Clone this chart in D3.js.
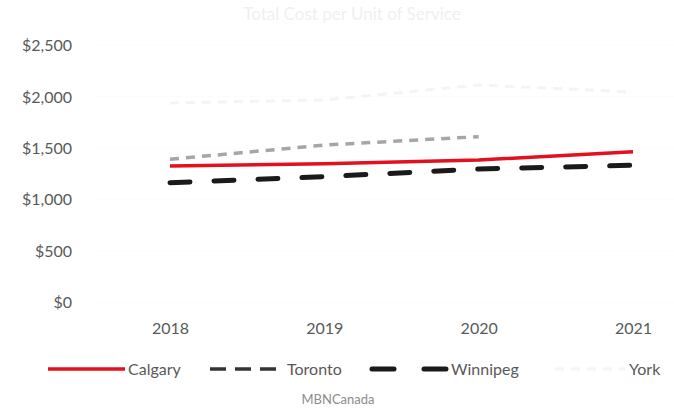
<!DOCTYPE html>
<html>
<head>
<meta charset="utf-8">
<script src="https://cdn.jsdelivr.net/npm/d3@7"></script>
<style>
  html, body { margin: 0; padding: 0; background: #ffffff; }
  svg { display: block; }
</style>
</head>
<body>
<div id="chart"></div>
<script>
// ---- data ----
const years = ["2018", "2019", "2020", "2021"];
const calgary = [1323, 1345, 1381, 1462];
const toronto = [1388, 1527, 1608, null];
const winnipeg = [1161, 1219, 1294, 1330];
const york = [1936, 1965, 2111, 2043];
const yTicks = [0, 500, 1000, 1500, 2000, 2500];
const seriesNames = ["Calgary", "Toronto", "Winnipeg", "York"];
const titleText = "Total Cost per Unit of Service";
const sourceText = "MBNCanada";

// ---- layout ----
const W = 674, H = 412;
const svg = d3.select("#chart").append("svg").attr("width", W).attr("height", H);

const x = d3.scalePoint().domain(years).range([170, 633]);
const y = d3.scaleLinear().domain([0, 2500]).range([302, 45]);

const font = "Lato, 'Open Sans', sans-serif";
const textColor = "#595959";

// title (very faint)
svg.append("text")
  .attr("x", 352).attr("y", 20)
  .attr("text-anchor", "middle")
  .attr("font-family", font).attr("font-size", 17)
  .attr("fill", "#f0f0f0")
  .text(titleText);

// faint gridlines
svg.append("g").selectAll("line").data(yTicks).join("line")
  .attr("x1", 93).attr("x2", 674)
  .attr("y1", d => y(d)).attr("y2", d => y(d))
  .attr("stroke", "#fcfcfc").attr("stroke-width", 1);

// y axis
const yAxis = d3.axisLeft(y).tickValues(yTicks)
  .tickFormat(d => "$" + d3.format(",")(d)).tickSize(0).tickPadding(0);
const gy = svg.append("g").attr("transform", "translate(72,0)").call(yAxis);
gy.select(".domain").remove();
gy.selectAll("text").attr("font-family", font).attr("font-size", 16).attr("fill", textColor).attr("dy", "0.35em");

// x axis
const xAxis = d3.axisBottom(x).tickSize(0).tickPadding(0);
const gx = svg.append("g").attr("transform", "translate(0,323)").call(xAxis);
gx.select(".domain").remove();
gx.selectAll("text").attr("font-family", font).attr("font-size", 16).attr("fill", textColor).attr("dy", "0.71em");

// lines
const styles = {
  Calgary: { color: "#e3101e", width: 3.5, dash: null, data: calgary },
  Toronto: { color: "#a6a6a6", width: 3.5, dash: "9,7", data: toronto },
  Winnipeg: { color: "#1a1a1a", width: 5, dash: "20,24", data: winnipeg },
  York: { color: "#f4f4f4", width: 3, dash: "9,7", data: york }
};
const line = d3.line()
  .defined(d => d.v != null)
  .x(d => x(d.year)).y(d => y(d.v));

["York", "Toronto", "Winnipeg", "Calgary"].forEach(name => {
  const s = styles[name];
  const pts = years.map((yr, i) => ({ year: yr, v: s.data[i] }));
  svg.append("path")
    .datum(pts)
    .attr("fill", "none")
    .attr("stroke", s.color)
    .attr("stroke-width", s.width)
    .attr("stroke-dasharray", s.dash)
    .attr("stroke-linecap", name === "Winnipeg" ? "round" : "butt")
    .attr("d", line);
});

// legend
const legendY = 369;
const legendItems = [
  { name: "Calgary", x1: 48, x2: 125, tx: 128, color: "#e3101e", dash: null, w: 3.5 },
  { name: "Toronto", x1: 210, x2: 283, tx: 287, color: "#333333", dash: "16,9", w: 3.5 },
  { name: "Winnipeg", x1: 372, x2: 447, tx: 451, color: "#1a1a1a", dash: "22,30", w: 5 },
  { name: "York", x1: 555, x2: 625, tx: 629, color: "#f4f4f4", dash: "9,7", w: 3 }
];
const lg = svg.append("g");
legendItems.forEach(it => {
  lg.append("line")
    .attr("x1", it.x1).attr("x2", it.x2)
    .attr("y1", legendY).attr("y2", legendY)
    .attr("stroke", it.color).attr("stroke-width", it.w)
    .attr("stroke-dasharray", it.dash)
    .attr("stroke-linecap", it.name === "Winnipeg" ? "round" : "butt");
  lg.append("text")
    .attr("x", it.tx).attr("y", legendY)
    .attr("dy", "0.35em")
    .attr("font-family", font).attr("font-size", 16).attr("fill", textColor)
    .text(it.name);
});

// source
svg.append("text")
  .attr("x", 338).attr("y", 404)
  .attr("text-anchor", "middle")
  .attr("font-family", font).attr("font-size", 13)
  .attr("fill", "#8c8c8c")
  .text(sourceText);
</script>
</body>
</html>
